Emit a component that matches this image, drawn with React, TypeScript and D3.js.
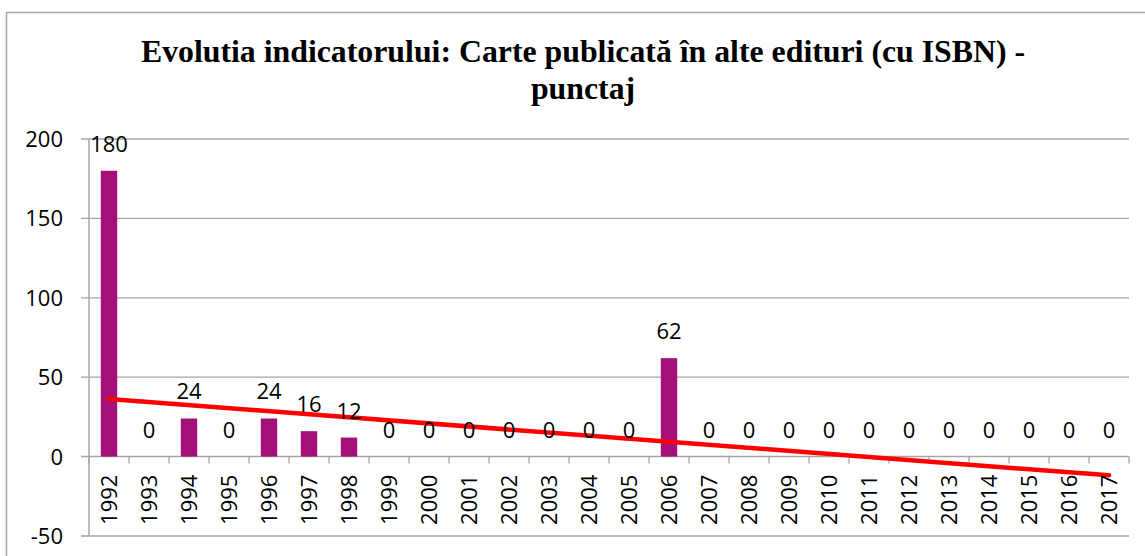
import React from 'react';
import * as d3 from 'd3';

const width = 1145;
const height = 556;

const years = ['1992', '1993', '1994', '1995', '1996', '1997', '1998', '1999', '2000', '2001', '2002', '2003', '2004',
    '2005', '2006', '2007', '2008', '2009', '2010', '2011', '2012', '2013', '2014', '2015', '2016', '2017'];
const points = [180, 0, 24, 0, 24, 16, 12, 0, 0, 0, 0, 0, 0, 0, 62, 0, 0, 0, 0, 0, 0, 0, 0, 0, 0, 0];
const yTicks = [-50, 0, 50, 100, 150, 200];
const titleLines = ['Evolutia indicatorului: Carte publicată în alte edituri (cu ISBN) -', 'punctaj'];

const plot = {left: 89, right: 1129, top: 139, bottom: 536};
const labelFont = '"Open Sans", sans-serif';

// least squares trend, same as the spreadsheet's linear trendline
function trend(values: number[]) {
    const xs = values.map((d, i) => i);
    const mx = d3.mean(xs) as number;
    const my = d3.mean(values) as number;
    const sxy = d3.sum(values, (d, i) => (i - mx) * (d - my));
    const sxx = d3.sum(xs, x => (x - mx) * (x - mx));
    const slope = sxy / sxx;
    return (i: number) => my + slope * (i - mx);
}

export default function App() {
    const x = d3.scaleBand()
        .domain(years)
        .range([plot.left, plot.right])
        .paddingInner(0.59)
        .paddingOuter(0.295);
    const y = d3.scaleLinear()
        .domain([-50, 200])
        .range([plot.bottom, plot.top]);
    const step = x.step();
    const center = (yr: string) => (x(yr) as number) + x.bandwidth() / 2;
    const fit = trend(points);
    const trendPath = d3.line<number>()
        .x(i => center(years[i]))
        .y(i => y(fit(i)))([0, years.length - 1]);
    const boundaries = d3.range(years.length + 1).map(i => plot.left + i * step);

    return (
        <svg width={width} height={height} style={{display: 'block', position: 'absolute', left: 0, top: 0}}>
            <rect x={0} y={0} width={width} height={height} fill="#fff"/>
            <rect x={6.5} y={12.5} width={1170} height={580} fill="none" stroke="#a6a6a6" strokeWidth={1.5}/>
            <text textAnchor="middle" fontFamily='"Liberation Serif", "Times New Roman", serif'
                  fontWeight="bold" fontSize={31.8}>
                {titleLines.map((t, i) => (
                    <tspan key={i} x={583} y={62 + i * 37}>{t}</tspan>
                ))}
            </text>
            {yTicks.map(t => (
                <g key={t}>
                    <line x1={plot.left - 8} x2={plot.right} y1={y(t)} y2={y(t)}
                          stroke="#a6a6a6" strokeWidth={t === 0 ? 1.5 : 1.3}/>
                    <text x={63} y={y(t)} dy="0.36em" textAnchor="end" fontFamily={labelFont}
                          fontSize={22} fill="#000">{t}</text>
                </g>
            ))}
            <line x1={plot.left} x2={plot.left} y1={plot.top} y2={plot.bottom} stroke="#a6a6a6" strokeWidth={1.5}/>
            {boundaries.map((b, i) => (
                <line key={i} x1={b} x2={b} y1={y(0)} y2={y(0) + 7} stroke="#a6a6a6" strokeWidth={1.3}/>
            ))}
            {years.map((yr, i) => (
                <rect key={yr} x={x(yr)} y={y(Math.max(points[i], 0))} width={x.bandwidth()}
                      height={Math.abs(y(points[i]) - y(0))} fill="#a50f78"/>
            ))}
            <path d={trendPath || ''} fill="none" stroke="#ff0000" strokeWidth={4.5} strokeLinecap="round"/>
            {years.map((yr, i) => (
                <text key={yr} x={center(yr)} y={y(points[i]) - 19} textAnchor="middle"
                      fontFamily={labelFont} fontSize={22} fill="#000">{points[i]}</text>
            ))}
            {years.map(yr => (
                <text key={yr} transform={`translate(${center(yr)},${y(0) + 18}) rotate(-90)`}
                      dy="0.36em" textAnchor="end" fontFamily={labelFont} fontSize={22} fill="#000">{yr}</text>
            ))}
        </svg>
    );
}
